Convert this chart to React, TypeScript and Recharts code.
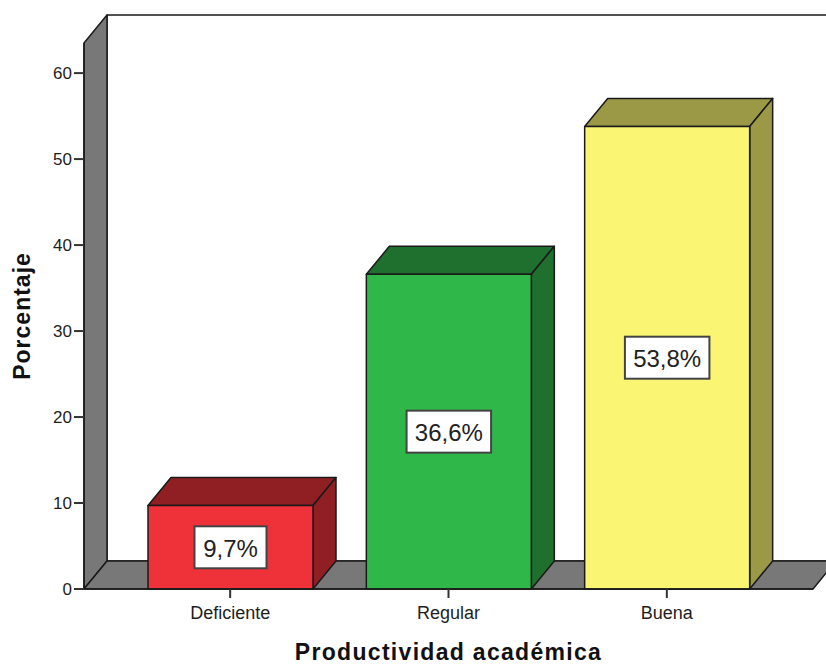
import React from "react";
import {
  Bar,
  BarChart,
  LabelList,
  ReferenceArea,
  XAxis,
  YAxis
} from "recharts";

const categories = ["Deficiente", "Regular", "Buena"];
const percentages = [9.7, 36.6, 53.8];
const yTicks = [0, 10, 20, 30, 40, 50, 60];
const yMax = 63.5;

const frontColors = ["#ef3139", "#2fb74a", "#faf572"];
const darkColors = ["#901f23", "#1f6f2e", "#9b9846"];

const data = categories.map((name, i) => ({ name, value: percentages[i] }));

// depth offset of the fake 3d
const DX = 23;
const DY = 28;
// category axis padding; the reference area only spans the padded range
const PAD = 37;
const EDGE = "#1a1a1a";
const WALL = "#787878";
const FONT = "Arial, 'Liberation Sans', sans-serif";

const pt = (pts: number[][]) => pts.map((p) => p.join(",")).join(" ");

function Box3D(props: any) {
  const { x, y, width: w, height: h, index } = props;
  const dark = darkColors[index % darkColors.length];
  const front = frontColors[index % frontColors.length];
  return (
    <g stroke={EDGE} strokeWidth={1.5} strokeLinejoin="round">
      <polygon
        points={pt([[x, y], [x + DX, y - DY], [x + w + DX, y - DY], [x + w, y]])}
        fill={dark}
      />
      <polygon
        points={pt([[x + w, y], [x + w + DX, y - DY], [x + w + DX, y + h - DY], [x + w, y + h]])}
        fill={dark}
      />
      <rect x={x} y={y} width={w} height={h} fill={front} />
    </g>
  );
}

function Walls(props: any) {
  const { y, height } = props;
  const x = props.x - PAD;
  const width = props.width + PAD * 2;
  const bottom = y + height;
  const right = x + width;
  return (
    <g stroke={EDGE} strokeWidth={1.5} strokeLinejoin="round">
      <rect x={x + DX} y={y - DY} width={width + 40} height={height} fill="#ffffff" />
      <polygon
        points={pt([[x, y], [x + DX, y - DY], [x + DX, bottom - DY], [x, bottom]])}
        fill={WALL}
      />
      <polygon
        points={pt([[x, bottom], [x + DX, bottom - DY], [right + DX, bottom - DY], [right, bottom]])}
        fill={WALL}
      />
    </g>
  );
}

function ValueBox(props: any) {
  const { x, y, width, height, value } = props;
  const text = `${String(value).replace(".", ",")}%`;
  const bw = text.length * 12.5 + 22;
  const bh = 42;
  const cx = x + width / 2;
  const cy = y + height / 2;
  return (
    <g>
      <rect
        x={cx - bw / 2}
        y={cy - bh / 2}
        width={bw}
        height={bh}
        fill="#ffffff"
        stroke="#444444"
        strokeWidth={2}
      />
      <text
        x={cx}
        y={cy + 1}
        textAnchor="middle"
        dominantBaseline="central"
        fontFamily={FONT}
        fontSize={24}
        fill="#222222"
      >
        {text}
      </text>
    </g>
  );
}

export default function App() {
  return (
    <div style={{ width: 826, height: 665 }}>
      <style>{`body{margin:0}`}</style>
      <BarChart
        width={826}
        height={665}
        data={data}
        margin={{ top: 43, right: 13, bottom: 0, left: 14 }}
        barSize={165}
      >
        <ReferenceArea y1={0} y2={yMax} ifOverflow="visible" shape={<Walls />} />
        <XAxis
          dataKey="name"
          height={76}
          padding={{ left: PAD, right: PAD }}
          axisLine={{ stroke: EDGE, strokeWidth: 1.5 }}
          tickLine={{ stroke: "#333333", strokeWidth: 2 }}
          tickSize={9}
          tickMargin={8}
          tick={{ fill: "#1e1e1e", fontSize: 18, fontFamily: FONT }}
          label={(p: any) => {
            const vb = p.viewBox;
            return (
              <text
                x={vb.x + vb.width / 2}
                y={660}
                textAnchor="middle"
                fontFamily={FONT}
                fontWeight="bold"
                fontSize={23}
                letterSpacing={1.3}
                fill="#111111"
              >
                Productividad académica
              </text>
            );
          }}
        />
        <YAxis
          type="number"
          width={70}
          domain={[0, yMax]}
          ticks={yTicks}
          interval={0}
          axisLine={{ stroke: EDGE, strokeWidth: 1.5 }}
          tickLine={{ stroke: "#333333", strokeWidth: 2 }}
          tickSize={10}
          tickMargin={2}
          tick={{ fill: "#1e1e1e", fontSize: 17, fontFamily: FONT }}
          label={(p: any) => {
            const vb = p.viewBox;
            const cy = vb.y + vb.height / 2;
            return (
              <text
                x={22}
                y={cy}
                transform={`rotate(-90 22 ${cy})`}
                textAnchor="middle"
                dominantBaseline="central"
                fontFamily={FONT}
                fontWeight="bold"
                fontSize={23}
                letterSpacing={1}
                fill="#111111"
              >
                Porcentaje
              </text>
            );
          }}
        />
        <Bar dataKey="value" shape={<Box3D />} isAnimationActive={false}>
          <LabelList dataKey="value" content={<ValueBox />} />
        </Bar>
      </BarChart>
    </div>
  );
}
